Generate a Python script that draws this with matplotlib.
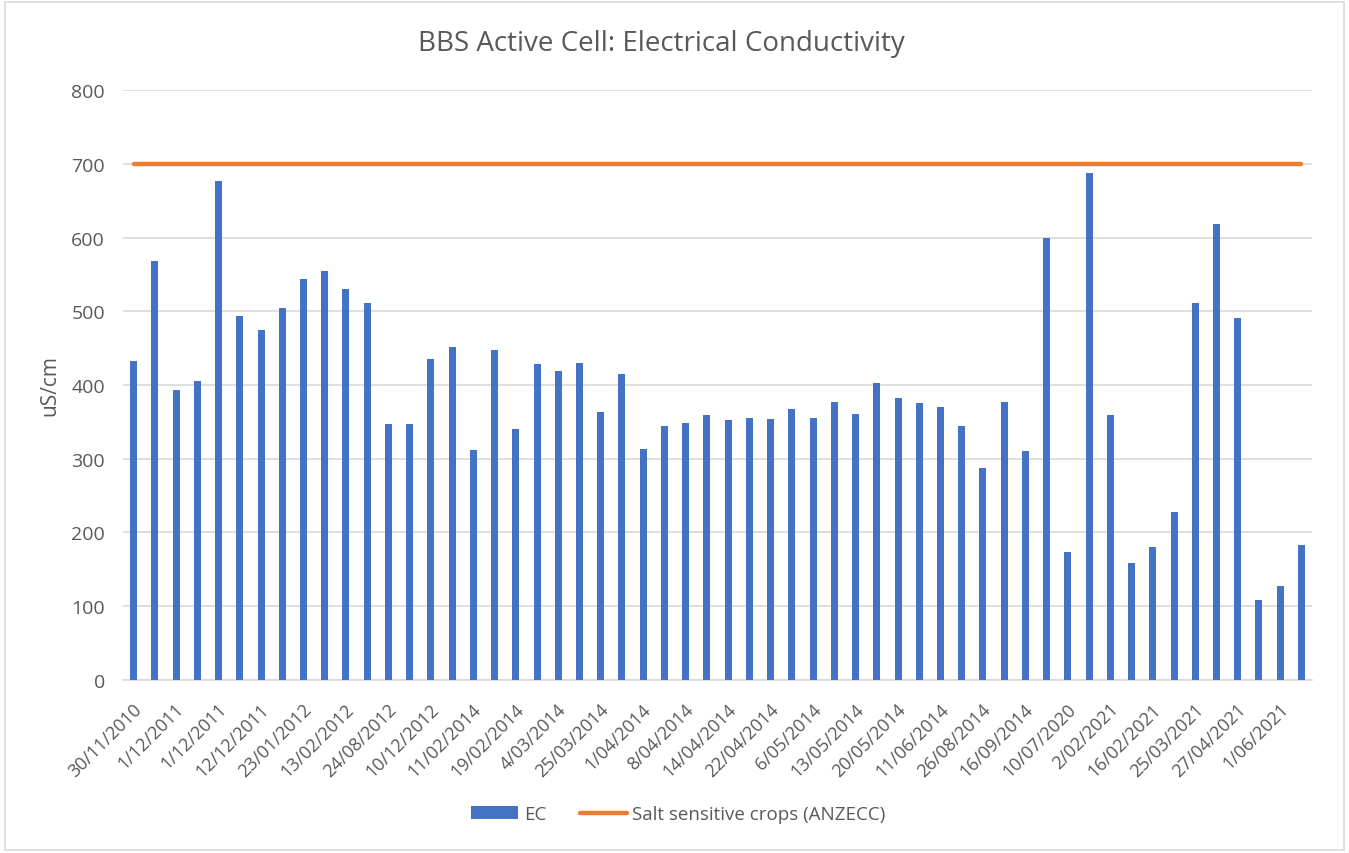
"""Grafico de barras de conductividad electrica (BBS Active Cell)."""

import matplotlib
matplotlib.use("Agg")
import matplotlib.pyplot as plt
from matplotlib.patches import Rectangle
from matplotlib.transforms import ScaledTranslation

# Etiquetas visibles (una de cada dos barras)
tick_labels = [
    "30/11/2010", "1/12/2011", "1/12/2011", "12/12/2011", "23/01/2012",
    "13/02/2012", "24/08/2012", "10/12/2012", "11/02/2014", "19/02/2014",
    "4/03/2014", "25/03/2014", "1/04/2014", "8/04/2014", "14/04/2014",
    "22/04/2014", "6/05/2014", "13/05/2014", "20/05/2014", "11/06/2014",
    "26/08/2014", "16/09/2014", "10/07/2020", "2/02/2021", "16/02/2021",
    "25/03/2021", "27/04/2021", "1/06/2021",
]

ec_values = [
    432, 568, 393, 405, 676, 494, 475, 505, 544, 555,
    530, 511, 347, 347, 435, 451, 312, 448, 341, 429,
    419, 430, 363, 415, 313, 344, 349, 360, 352, 355,
    354, 368, 355, 377, 361, 403, 382, 376, 370, 344,
    287, 377, 310, 599, 173, 688, 360, 159, 181, 228,
    511, 619, 491, 109, 128, 183,
]

limit_value = 700

blue = "#4472C4"
orange = "#ED7D31"
gray = "#595959"

plt.rcParams["font.family"] = ["Open Sans", "DejaVu Sans"]

fig = plt.figure(figsize=(13.49, 8.54), dpi=100)
ax = fig.add_axes([0.0912, 0.2026, 0.8814, 0.6908])

x = list(range(len(ec_values)))
bars = ax.bar(x, ec_values, width=0.33, color=blue, label="EC", zorder=3)
line, = ax.plot([x[0], x[-1]], [limit_value, limit_value], color=orange,
                linewidth=3.2, solid_capstyle="round",
                label="Salt sensitive crops (ANZECC)", zorder=4)

ax.set_xlim(-0.5, len(ec_values) - 0.5)
ax.set_ylim(0, 800)
ax.set_yticks(range(0, 801, 100))
ax.tick_params(axis="y", labelsize=14, colors=gray, length=0, pad=13)
ax.set_xticks(x[::2])
ax.set_xticklabels(tick_labels, rotation=45, ha="right", rotation_mode="anchor",
                   fontsize=13, color=gray)
ax.tick_params(axis="x", length=0, pad=14)
# pequeno ajuste horizontal de las etiquetas
offset = ScaledTranslation(-1 / 100, 0, fig.dpi_scale_trans)
for lbl in ax.get_xticklabels():
    lbl.set_transform(lbl.get_transform() + offset)

ax.grid(axis="y", color="#D9D9D9", linewidth=1.2, zorder=0)
for s in ["top", "right", "left"]:
    ax.spines[s].set_visible(False)
ax.spines["bottom"].set_color("#D9D9D9")
ax.spines["bottom"].set_linewidth(1.2)

ax.set_ylabel("uS/cm", fontsize=15, color=gray, labelpad=8)
fig.suptitle("BBS Active Cell: Electrical Conductivity", fontsize=20,
             color=gray, x=0.49, y=0.965)

fig.legend(handles=[bars, line], loc="lower center",
           bbox_to_anchor=(0.503, 0.015), ncol=2, frameon=False, fontsize=13.5,
           labelcolor=gray, handlelength=2.5, handletextpad=0.3,
           columnspacing=1.8)

# Borde del area del grafico
fig.patches.append(Rectangle((0.004, 0.004), 0.992, 0.992, transform=fig.transFigure,
                             fill=False, edgecolor="#D9D9D9", linewidth=1.2))

fig.savefig("out.png", dpi=100)
